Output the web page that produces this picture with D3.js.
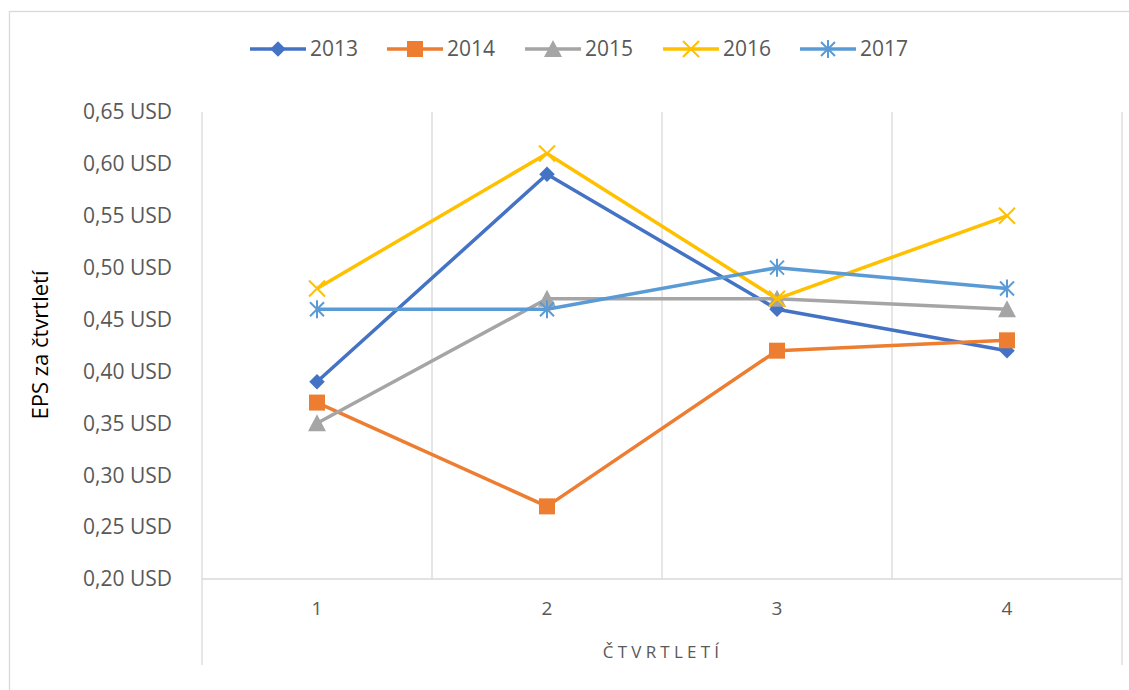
<!DOCTYPE html>
<html lang="cs">
<head>
<meta charset="UTF-8">
<title>EPS za čtvrtletí</title>
<style>
    body { margin: 0; background: #fff; }
    svg text { font-family: "Open Sans", "Noto Sans", sans-serif; }
    .tick-label { fill: #595959; font-size: 21px; }
    .grid { stroke: #d9d9d9; stroke-width: 1.3px; }
</style>
</head>
<body>
<div id="chart"></div>
<script src="https://d3js.org/d3.v7.min.js"></script>
<script>
// data
const quarters = ["1", "2", "3", "4"];
const years = ["2013", "2014", "2015", "2016", "2017"];
const eps2013 = [0.39, 0.59, 0.46, 0.42];
const eps2014 = [0.37, 0.27, 0.42, 0.43];
const eps2015 = [0.35, 0.47, 0.47, 0.46];
const eps2016 = [0.48, 0.61, 0.47, 0.55];
const eps2017 = [0.46, 0.46, 0.50, 0.48];
const yTicks = [0.20, 0.25, 0.30, 0.35, 0.40, 0.45, 0.50, 0.55, 0.60, 0.65];

const seriesValues = [eps2013, eps2014, eps2015, eps2016, eps2017];
const colors = ["#4472C4", "#ED7D31", "#A5A5A5", "#FFC000", "#5B9BD5"];
const symbols = ["diamond", "square", "triangle", "x", "star"];

const W = 1129, H = 690;
const plot = { left: 202, right: 1122, top: 112, bottom: 579 };

const svg = d3.select("#chart").append("svg")
    .attr("width", W).attr("height", H);

// outer chart border (clipped by the picture)
svg.append("rect")
    .attr("x", 9.5).attr("y", 11.5)
    .attr("width", W + 20).attr("height", H + 20)
    .attr("fill", "none").attr("stroke", "#d9d9d9").attr("stroke-width", 1.3);

const x = d3.scaleBand().domain(quarters).range([plot.left, plot.right]);
const y = d3.scaleLinear().domain([0.20, 0.65]).range([plot.bottom, plot.top]);

// vertical grid lines between categories
const bounds = quarters.map(q => x(q)).concat([plot.right]);
svg.selectAll(".vgrid")
    .data(bounds)
    .enter().append("line")
    .attr("class", "grid")
    .attr("x1", d => d).attr("x2", d => d)
    .attr("y1", plot.top)
    .attr("y2", (d, i) => (i === 0 || i === bounds.length - 1) ? 665 : plot.bottom);

// x axis line
svg.append("line")
    .attr("class", "grid")
    .attr("x1", plot.left).attr("x2", plot.right)
    .attr("y1", plot.bottom).attr("y2", plot.bottom);

// y tick labels
const fmt = d3.format(".2f");
svg.selectAll(".ylab")
    .data(yTicks)
    .enter().append("text")
    .attr("class", "tick-label")
    .attr("x", 172)
    .attr("y", d => y(d))
    .attr("dy", "0.35em")
    .attr("text-anchor", "end")
    .text(d => fmt(d).replace(".", ",") + " USD");

// x tick labels
svg.selectAll(".xlab")
    .data(quarters)
    .enter().append("text")
    .attr("class", "tick-label")
    .attr("x", d => x(d) + x.bandwidth() / 2)
    .attr("y", 608)
    .attr("dy", "0.35em")
    .attr("text-anchor", "middle")
    .style("font-size", "19px")
    .text(d => d);

// axis titles
svg.append("text")
    .attr("x", 663).attr("y", 652)
    .attr("dy", "0.35em")
    .attr("text-anchor", "middle")
    .attr("fill", "#595959")
    .style("font-size", "17px")
    .style("letter-spacing", "4.2px")
    .text("ČTVRTLETÍ");

svg.append("text")
    .attr("transform", "translate(40,345) rotate(-90)")
    .attr("dy", "0.35em")
    .attr("text-anchor", "middle")
    .attr("fill", "#000")
    .style("font-size", "22px")
    .text("EPS za čtvrtletí");

// marker drawing
function drawMarker(g, type, color, cx, cy) {
    if (type === "diamond") {
        g.append("path")
            .attr("d", d3.symbol(d3.symbolSquare, 120)())
            .attr("transform", `translate(${cx},${cy}) rotate(45)`)
            .attr("fill", color);
    } else if (type === "square") {
        g.append("rect")
            .attr("x", cx - 8).attr("y", cy - 8)
            .attr("width", 16).attr("height", 16)
            .attr("fill", color);
    } else if (type === "triangle") {
        g.append("path")
            .attr("d", `M${cx},${cy - 9}L${cx + 9},${cy + 8}L${cx - 9},${cy + 8}Z`)
            .attr("fill", color);
    } else if (type === "x") {
        g.append("path")
            .attr("d", `M${cx - 8},${cy - 8}L${cx + 8},${cy + 8}M${cx - 8},${cy + 8}L${cx + 8},${cy - 8}`)
            .attr("stroke", color).attr("stroke-width", 2).attr("fill", "none");
    } else if (type === "star") {
        g.append("path")
            .attr("d", `M${cx - 7},${cy - 7}L${cx + 7},${cy + 7}M${cx - 7},${cy + 7}L${cx + 7},${cy - 7}M${cx},${cy - 9}L${cx},${cy + 9}`)
            .attr("stroke", color).attr("stroke-width", 2).attr("fill", "none");
    }
}

// series lines and markers
const line = d3.line()
    .x((d, i) => x(quarters[i]) + x.bandwidth() / 2)
    .y(d => y(d));

seriesValues.forEach((vals, s) => {
    const g = svg.append("g");
    g.append("path")
        .datum(vals)
        .attr("d", line)
        .attr("fill", "none")
        .attr("stroke", colors[s])
        .attr("stroke-width", 3.5)
        .attr("stroke-linejoin", "round");
    vals.forEach((v, i) => {
        drawMarker(g, symbols[s], colors[s], x(quarters[i]) + x.bandwidth() / 2, y(v));
    });
});

// legend
const legendX = [250, 387, 525, 663, 800];
years.forEach((yr, s) => {
    const g = svg.append("g");
    const lx = legendX[s];
    g.append("line")
        .attr("x1", lx).attr("x2", lx + 56)
        .attr("y1", 49).attr("y2", 49)
        .attr("stroke", colors[s]).attr("stroke-width", 3.5);
    drawMarker(g, symbols[s], colors[s], lx + 28, 49);
    g.append("text")
        .attr("class", "tick-label")
        .attr("x", lx + 60).attr("y", 49)
        .attr("dy", "0.35em")
        .style("font-size", "21px")
        .text(yr);
});
</script>
</body>
</html>
